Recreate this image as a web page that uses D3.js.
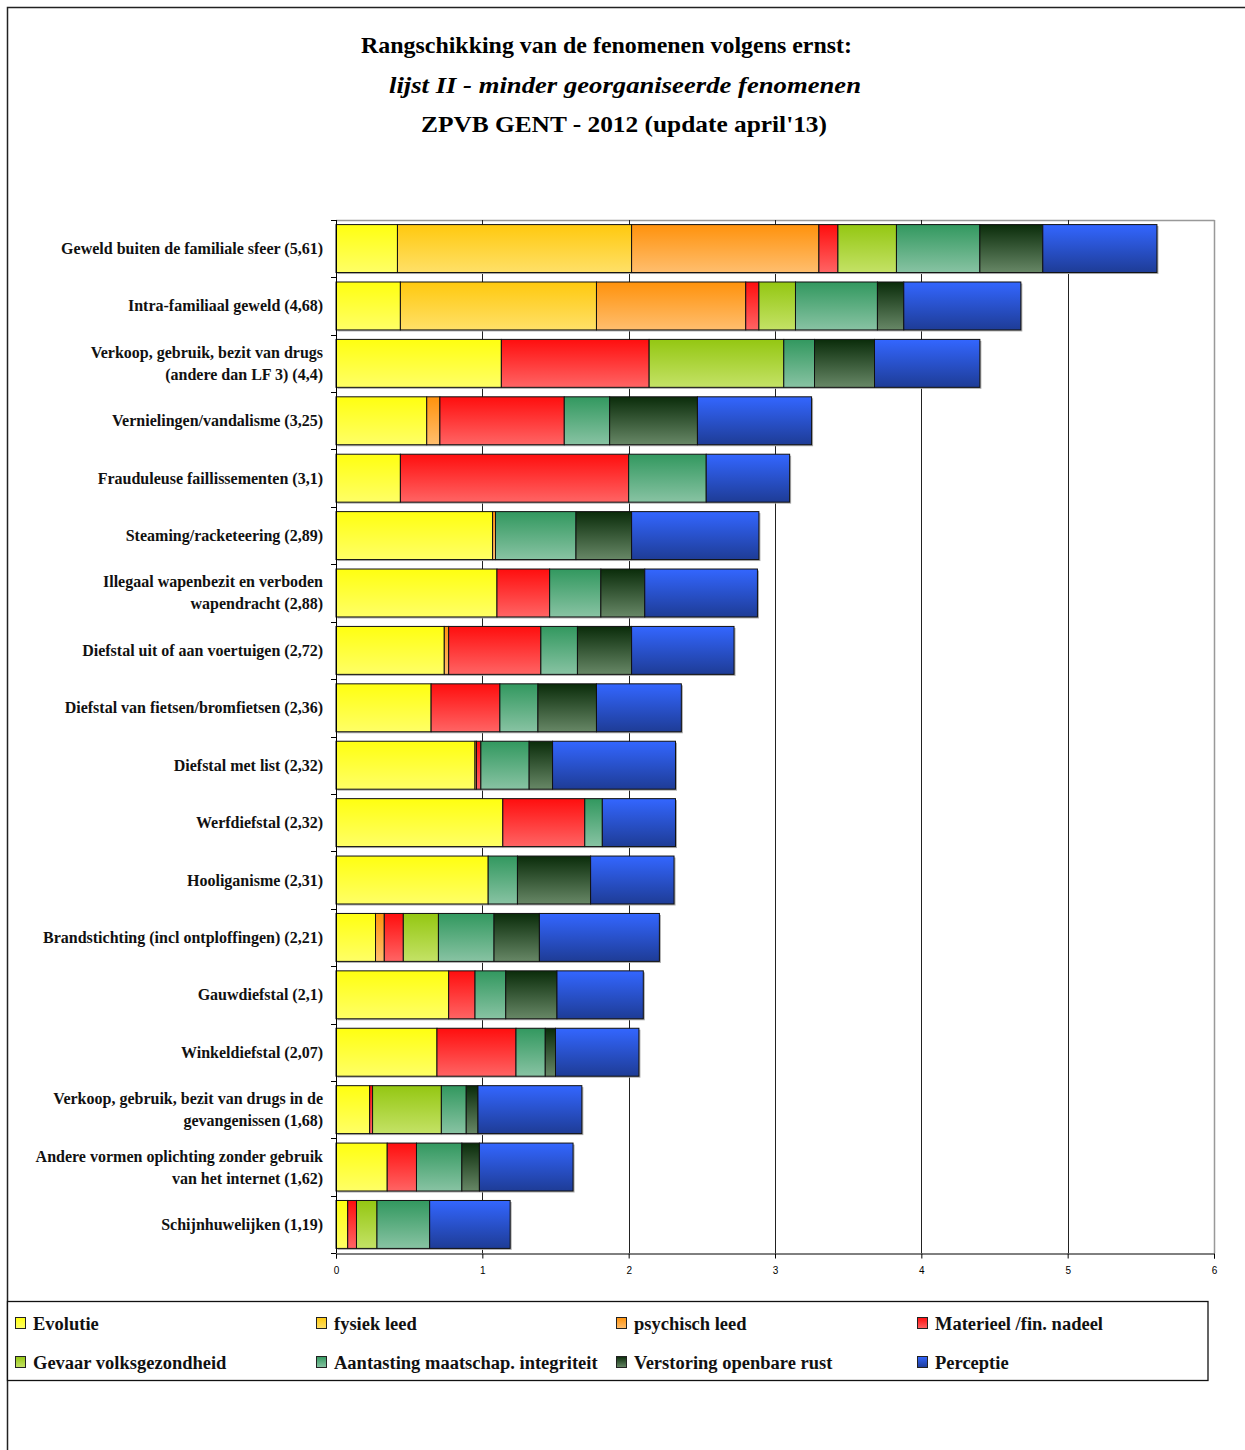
<!DOCTYPE html>
<html>
<head>
<meta charset="utf-8">
<script src="https://cdn.jsdelivr.net/npm/d3@7"></script>
<style>
  html, body { margin: 0; padding: 0; background: #fff; }
  svg { display: block; }
</style>
</head>
<body>
<script>
const categories = [
  "Geweld buiten de familiale sfeer (5,61)",
  "Intra-familiaal geweld  (4,68)",
  "Verkoop, gebruik, bezit van drugs|(andere dan LF 3)  (4,4)",
  "Vernielingen/vandalisme (3,25)",
  "Frauduleuse faillissementen  (3,1)",
  "Steaming/racketeering (2,89)",
  "Illegaal wapenbezit en verboden|wapendracht (2,88)",
  "Diefstal uit of aan voertuigen  (2,72)",
  "Diefstal van fietsen/bromfietsen (2,36)",
  "Diefstal met list (2,32)",
  "Werfdiefstal (2,32)",
  "Hooliganisme (2,31)",
  "Brandstichting (incl ontploffingen) (2,21)",
  "Gauwdiefstal (2,1)",
  "Winkeldiefstal (2,07)",
  "Verkoop, gebruik, bezit van drugs in de|gevangenissen (1,68)",
  "Andere vormen oplichting zonder gebruik|van het internet (1,62)",
  "Schijnhuwelijken (1,19)"
];

const seriesNames = ["Evolutie", "fysiek leed", "psychisch leed", "Materieel /fin. nadeel",
  "Gevaar volksgezondheid", "Aantasting maatschap. integriteit", "Verstoring openbare rust", "Perceptie"];

const evolutie   = [0.42, 0.44, 1.13, 0.62, 0.44, 1.07, 1.10, 0.74, 0.65, 0.95, 1.14, 1.04, 0.27, 0.77, 0.69, 0.23, 0.35, 0.08];
const fysiek     = [1.60, 1.34, 0, 0, 0, 0, 0, 0, 0, 0, 0, 0, 0, 0, 0, 0, 0, 0];
const psychisch  = [1.28, 1.02, 0, 0.09, 0, 0.02, 0, 0.03, 0, 0.01, 0, 0, 0.06, 0, 0, 0, 0, 0];
const materieel  = [0.13, 0.09, 1.01, 0.85, 1.56, 0, 0.36, 0.63, 0.47, 0.03, 0.56, 0, 0.13, 0.18, 0.54, 0.02, 0.20, 0.06];
const gevaar     = [0.40, 0.25, 0.92, 0, 0, 0, 0, 0, 0, 0, 0, 0, 0.24, 0, 0, 0.47, 0, 0.14];
const aantasting = [0.57, 0.56, 0.21, 0.31, 0.53, 0.55, 0.35, 0.25, 0.26, 0.33, 0.12, 0.20, 0.38, 0.21, 0.20, 0.17, 0.31, 0.36];
const verstoring = [0.43, 0.18, 0.41, 0.60, 0, 0.38, 0.30, 0.37, 0.40, 0.16, 0, 0.50, 0.31, 0.35, 0.07, 0.08, 0.12, 0];
const perceptie  = [0.78, 0.80, 0.72, 0.78, 0.57, 0.87, 0.77, 0.70, 0.58, 0.84, 0.50, 0.57, 0.82, 0.59, 0.57, 0.71, 0.64, 0.55];

const xTicks = [0, 1, 2, 3, 4, 5, 6];
const titleLines = ["Rangschikking van de fenomenen volgens ernst:", "lijst II - minder georganiseerde fenomenen", "ZPVB GENT - 2012 (update april'13)"];

const gradTop    = ["#FFFF10", "#FFC90E", "#FF920C", "#FF0E0E", "#94C712", "#32985F", "#0A2C0A", "#3366FF"];
const gradBottom = ["#FFFF66", "#FFE068", "#FFBE6E", "#FF6464", "#C4E266", "#88C3A3", "#678766", "#1E3C96"];

const allSeries = [evolutie, fysiek, psychisch, materieel, gevaar, aantasting, verstoring, perceptie];
const keys = seriesNames.map((_, i) => "s" + i);
const table = categories.map((c, ci) => {
  const row = { cat: c };
  allSeries.forEach((s, si) => row[keys[si]] = s[ci]);
  return row;
});

const W = 1245, H = 1450;
const svg = d3.select("body").append("svg").attr("width", W).attr("height", H);
svg.append("rect").attr("width", W).attr("height", H).attr("fill", "#fff");

const defs = svg.append("defs");
keys.forEach((k, i) => {
  const g = defs.append("linearGradient").attr("id", "g" + k).attr("x1", 0).attr("y1", 0).attr("x2", 0).attr("y2", 1);
  g.append("stop").attr("offset", "0%").attr("stop-color", gradTop[i]);
  g.append("stop").attr("offset", "100%").attr("stop-color", gradBottom[i]);
});

// outer frame
svg.append("rect").attr("x", 7.5).attr("y", 7.5).attr("width", 1400).attr("height", 1600)
  .attr("fill", "none").attr("stroke", "#222").attr("stroke-width", 1.5);

// title
const serif = "'Liberation Serif', 'Times New Roman', serif";
const titleY = [53, 93, 132];
const titleX = [[361, 852], [389, 861], [421, 827]];
titleLines.forEach((t, i) => {
  svg.append("text").attr("x", titleX[i][0]).attr("y", titleY[i])
    .attr("textLength", titleX[i][1] - titleX[i][0]).attr("lengthAdjust", "spacingAndGlyphs")
    .attr("font-family", serif).attr("font-size", 24).attr("font-weight", "bold")
    .attr("font-style", i === 1 ? "italic" : "normal").attr("fill", "#000").text(t);
});

const x = d3.scaleLinear().domain([0, 6]).range([336, 1214]);
const y = d3.scaleBand().domain(categories).range([220, 1253]).paddingInner(0.165).paddingOuter(0.08);

// plot border (top gray)
svg.append("line").attr("x1", 336).attr("x2", 1214.5).attr("y1", 220.5).attr("y2", 220.5).attr("stroke", "#999").attr("stroke-width", 1.5);

// gridlines
svg.append("g").selectAll("line").data(xTicks.slice(1)).join("line")
  .attr("x1", d => Math.round(x(d)) + 0.5).attr("x2", d => Math.round(x(d)) + 0.5)
  .attr("y1", 220).attr("y2", 1253)
  .attr("stroke", d => d === 6 ? "#999" : "#222").attr("stroke-width", d => d === 6 ? 1.5 : 1);

// bars
const stack = d3.stack().keys(keys)(table);
const barG = svg.append("g");
barG.selectAll("rect.shadow").data(table).join("rect").attr("class", "shadow")
  .attr("x", x(0) + 1.5).attr("y", d => y(d.cat) + 1.5)
  .attr("width", d => x(d3.sum(keys, k => d[k])) - x(0))
  .attr("height", y.bandwidth()).attr("fill", "#aaa");
stack.forEach((layer, li) => {
  barG.append("g").selectAll("rect").data(layer.filter(d => d[1] - d[0] > 0)).join("rect")
    .attr("x", d => x(d[0])).attr("y", d => y(d.data.cat))
    .attr("width", d => x(d[1]) - x(d[0])).attr("height", y.bandwidth())
    .attr("fill", "url(#g" + keys[li] + ")").attr("stroke", "#111").attr("stroke-width", 1);
});

// y axis
const yAxis = svg.append("g");
yAxis.append("line").attr("x1", 336.5).attr("x2", 336.5).attr("y1", 220).attr("y2", 1253).attr("stroke", "#000");
const bounds = categories.map(c => y(c) - y.step() * y.paddingInner() / 2).concat([1253]);
yAxis.selectAll("line.tk").data(bounds).join("line").attr("class", "tk")
  .attr("x1", 331).attr("x2", 336).attr("y1", d => Math.round(d) + 0.5).attr("y2", d => Math.round(d) + 0.5)
  .attr("stroke", "#000");

// category labels
categories.forEach(c => {
  const lines = c.split("|");
  const cy = y(c) + y.bandwidth() / 2;
  const lh = 22;
  const t = svg.append("text").attr("text-anchor", "end")
    .attr("font-family", serif).attr("font-size", 16).attr("font-weight", "bold").attr("fill", "#111");
  lines.forEach((ln, i) => {
    t.append("tspan").attr("x", 323).attr("y", cy + 5.5 + (i - (lines.length - 1) / 2) * lh).text(ln);
  });
});

// x axis
const xAxis = d3.axisBottom(x).tickValues(xTicks).tickSize(5).tickFormat(d3.format("d"));
const xg = svg.append("g").attr("transform", "translate(0,1253.5)").call(xAxis);
xg.select(".domain").attr("stroke", "#000");
xg.selectAll(".tick line").attr("stroke", "#000");
xg.selectAll(".tick text").attr("font-family", "'Liberation Sans', Arial, sans-serif").attr("font-size", 10)
  .attr("fill", "#000").attr("dy", "1.25em");

// legend
svg.append("rect").attr("x", 7.5).attr("y", 1301.5).attr("width", 1200.5).attr("height", 79)
  .attr("fill", "#fff").attr("stroke", "#111").attr("stroke-width", 1.3);
const legX = [15, 316, 616, 917];
const legY = [1330, 1369];
seriesNames.forEach((n, i) => {
  const lx = legX[i % 4], ly = legY[Math.floor(i / 4)];
  svg.append("rect").attr("x", lx + 0.5).attr("y", ly - 12.5).attr("width", 10).attr("height", 11)
    .attr("fill", "url(#g" + keys[i] + ")").attr("stroke", "#222");
  svg.append("text").attr("x", lx + 18).attr("y", ly).attr("font-family", serif).attr("font-size", 18.5)
    .attr("font-weight", "bold").attr("fill", "#111").text(n);
});
</script>
</body>
</html>
